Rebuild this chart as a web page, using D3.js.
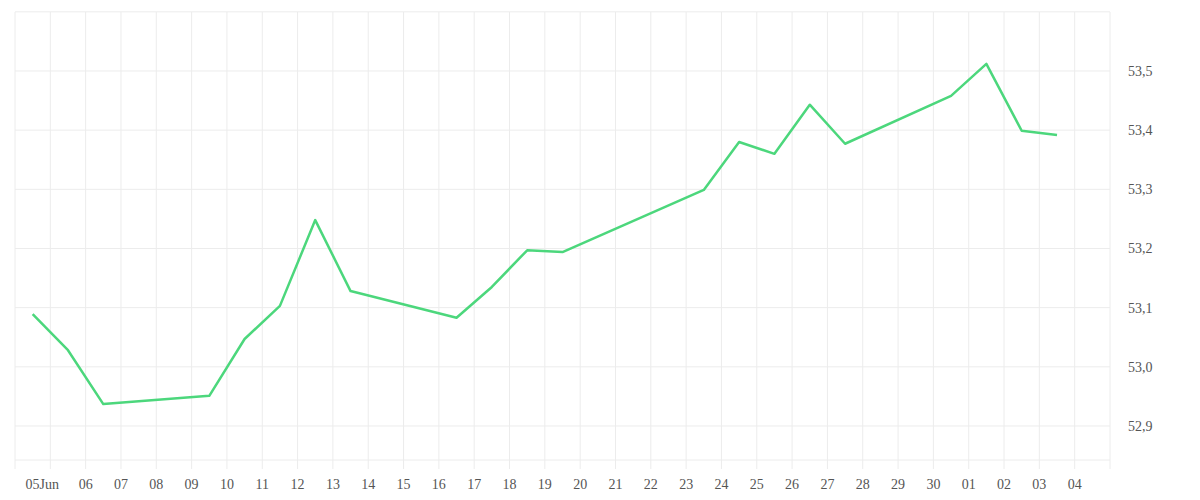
<!DOCTYPE html>
<html>
<head>
<meta charset="utf-8">
<script src="https://cdn.jsdelivr.net/npm/d3@7"></script>
<style>
  body { margin: 0; background: #fff; }
  text { font-family: "Liberation Serif", "DejaVu Serif", serif; }
</style>
</head>
<body>
<svg id="container"></svg>
<script>
const dates = ['2025-06-04T12:00Z', '2025-06-05T12:00Z', '2025-06-06T12:00Z', '2025-06-09T12:00Z',
    '2025-06-10T12:00Z', '2025-06-11T12:00Z', '2025-06-12T12:00Z', '2025-06-13T12:00Z',
    '2025-06-16T12:00Z', '2025-06-17T12:00Z', '2025-06-18T12:00Z', '2025-06-19T12:00Z',
    '2025-06-23T12:00Z', '2025-06-24T12:00Z', '2025-06-25T12:00Z', '2025-06-26T12:00Z',
    '2025-06-27T12:00Z', '2025-06-30T12:00Z', '2025-07-01T12:00Z', '2025-07-02T12:00Z',
    '2025-07-03T12:00Z'];
const values = [53.089, 53.028, 52.937, 52.951, 53.047, 53.103, 53.248, 53.128,
    53.083, 53.135, 53.197, 53.194, 53.299, 53.380, 53.360, 53.443,
    53.377, 53.458, 53.512, 53.399, 53.392];
const yTicks = [52.9, 53.0, 53.1, 53.2, 53.3, 53.4, 53.5, 53.6];

const width = 1200;
const height = 500;
const mLeft = 15, mRight = 1110, mTop = 12, mBottom = 460;

const data = dates.map((d, i) => ({ date: new Date(d), value: values[i] }));

const svg = d3.select('#container')
    .attr('width', width)
    .attr('height', height);

const x = d3.scaleUtc()
    .domain([new Date('2025-06-04T00:00Z'), new Date('2025-07-05T00:00Z')])
    .range([mLeft, mRight]);

const y = d3.scaleLinear()
    .domain([52.8425, 53.5997])
    .range([mBottom, mTop]);

const days = d3.utcDay.range(new Date('2025-06-04T00:00Z'), new Date('2025-07-05T12:00Z'));

// vertical grid
svg.append('g')
    .selectAll('line')
    .data(days)
    .enter()
    .append('line')
    .attr('x1', d => x(d)).attr('x2', d => x(d))
    .attr('y1', mTop).attr('y2', mBottom + 9)
    .attr('stroke', '#ececec');

// horizontal grid
svg.append('g')
    .selectAll('line')
    .data(yTicks.concat([y.domain()[0]]))
    .enter()
    .append('line')
    .attr('x1', mLeft).attr('x2', mRight)
    .attr('y1', d => y(d)).attr('y2', d => y(d))
    .attr('stroke', '#ececec');

// y labels
svg.append('g')
    .selectAll('text')
    .data(yTicks.filter(d => d < 53.55))
    .enter()
    .append('text')
    .attr('x', 1128)
    .attr('y', d => y(d) + 5)
    .attr('font-size', 14)
    .attr('fill', '#555')
    .text(d => d3.format('.1f')(d).replace('.', ','));

// x labels
const isFirst = d => d.getUTCMonth() === 5 && d.getUTCDate() === 5;
const xLabels = days.filter(d => d >= new Date('2025-06-05T00:00Z') && d <= new Date('2025-07-04T00:00Z'));
svg.append('g')
    .selectAll('text')
    .data(xLabels)
    .enter()
    .append('text')
    .attr('x', d => x(d) - (isFirst(d) ? 8 : 0))
    .attr('y', 489)
    .attr('text-anchor', 'middle')
    .attr('font-size', 14)
    .attr('fill', '#555')
    .text(d => isFirst(d) ? '05Jun' : d3.utcFormat('%d')(d));

const line = d3.line()
    .x(d => x(d.date))
    .y(d => y(d.value));

svg.append('path')
    .datum(data)
    .attr('d', line)
    .attr('fill', 'none')
    .attr('stroke', '#4cd77c')
    .attr('stroke-width', 2.5)
    .attr('stroke-linejoin', 'round');
</script>
</body>
</html>
